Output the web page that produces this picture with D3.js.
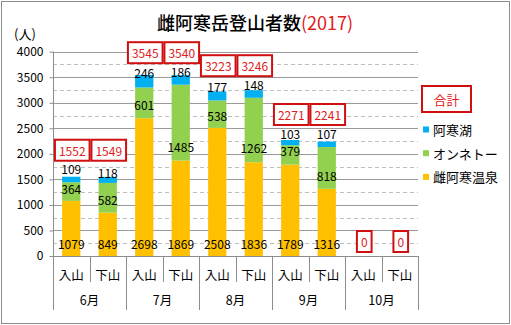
<!DOCTYPE html>
<html><head><meta charset="utf-8">
<script src="https://cdn.jsdelivr.net/npm/d3@7"></script>
<style>body{margin:0;background:#fff;} text{font-family:"Noto Sans CJK JP","Noto Sans",sans-serif;}</style>
</head><body><svg id="c" width="511" height="325"></svg>
<script>
const months = ["6月","7月","8月","9月","10月"];
const directions = ["入山","下山"];
const onsen  = [1079, 849, 2698, 1869, 2508, 1836, 1789, 1316, 0, 0];
const onneto = [364, 582, 601, 1485, 538, 1262, 379, 818, 0, 0];
const akanko = [109, 118, 246, 186, 177, 148, 103, 107, 0, 0];
const totals = [1552, 1549, 3545, 3540, 3223, 3246, 2271, 2241, 0, 0];
const yTicks = [0, 500, 1000, 1500, 2000, 2500, 3000, 3500, 4000];
const seriesNames = ["雌阿寒温泉", "オンネトー", "阿寒湖"];
const colors = ["#FFC000", "#92D050", "#00B0F0"];

(function(){
const svg = d3.select("#c");
const W = 511, H = 325;
const pLeft = 53, pRight = 418, pTop = 51.7, base = 256;
const red = "#E0201B", boxRed = "#D01010";

svg.append("rect").attr("x",1.5).attr("y",1.5).attr("width",W-3).attr("height",H-3)
  .attr("fill","#fff").attr("stroke","#8c8c8c").attr("stroke-width",1);

const idx = d3.range(totals.length);
const x = d3.scaleBand().domain(idx).range([pLeft, pRight]).paddingInner(0.5).paddingOuter(0.25);
const y = d3.scaleLinear().domain([0, 4000]).range([base, pTop]);

const minor = d3.range(250, 4000, 500);
svg.append("g").selectAll("line").data(minor).join("line")
  .attr("x1", pLeft).attr("x2", pRight).attr("y1", d => Math.round(y(d))+0.5).attr("y2", d => Math.round(y(d))+0.5)
  .attr("stroke", "#bfbfbf").attr("stroke-dasharray", "4,3");
svg.append("g").selectAll("line").data(yTicks.filter(d=>d>0)).join("line")
  .attr("x1", pLeft).attr("x2", pRight).attr("y1", d => Math.round(y(d))+0.5).attr("y2", d => Math.round(y(d))+0.5)
  .attr("stroke", "#9a9a9a");

const yAxis = d3.axisLeft(y).tickValues(yTicks).tickSize(4).tickPadding(6).tickFormat(d3.format("d"));
const ga = svg.append("g").attr("transform", `translate(${pLeft+0.5},0)`).call(yAxis);
ga.select(".domain").remove();
ga.selectAll(".tick line").attr("stroke", "#8c8c8c");
ga.selectAll(".tick text").attr("font-size", 12).attr("fill", "#000")
  .attr("font-family", '"Noto Sans","DejaVu Sans",sans-serif');
svg.append("line").attr("x1", pLeft+0.5).attr("x2", pLeft+0.5).attr("y1", pTop).attr("y2", 310).attr("stroke", "#8c8c8c");
svg.append("line").attr("x1", pLeft).attr("x2", pRight).attr("y1", base+0.5).attr("y2", base+0.5).attr("stroke", "#8c8c8c");

const table = idx.map(i => ({i, onsen: onsen[i], onneto: onneto[i], akanko: akanko[i]}));
const stack = d3.stack().keys(["onsen","onneto","akanko"])(table);
svg.append("g").selectAll("g").data(stack).join("g").attr("fill", (d,k) => colors[k])
  .selectAll("rect").data(d => d).join("rect")
  .attr("x", d => x(d.data.i)).attr("width", x.bandwidth())
  .attr("y", d => y(d[1])).attr("height", d => y(d[0]) - y(d[1]));

const step = x.step();
const catG = svg.append("g");
idx.forEach(i => {
  const cx = x(i) + x.bandwidth()/2;
  catG.append("text").attr("x", cx).attr("y", 274).attr("text-anchor","middle")
    .attr("dominant-baseline","central").attr("font-size", 12.5).text(directions[i % 2]);
});
for (let k = 1; k <= totals.length; k++) {
  const xx = Math.round(pLeft + k * step) + 0.5;
  const isMonth = k % 2 === 0;
  svg.append("line").attr("x1", xx).attr("x2", xx).attr("y1", base).attr("y2", isMonth ? 310 : 282)
    .attr("stroke", "#8c8c8c");
}
months.forEach((m, j) => {
  svg.append("text").attr("x", pLeft + (2*j+1)*step).attr("y", 299).attr("text-anchor","middle")
    .attr("dominant-baseline","central").attr("font-size", 12.5).text(m);
});

const lab = svg.append("g").attr("font-size", 12).attr("fill","#000")
  .attr("font-family", '"Noto Sans","DejaVu Sans",sans-serif')
  .attr("text-anchor","middle").attr("dominant-baseline","central");
const greenNudge = [-3, 2, 2, 24, 1, 18, -4, 8, 0, 0];
const blueNudge = [-8, -4, -2, -4, -5, -6, -7, -8, 0, 0];
const blueY = i => y(onsen[i] + onneto[i] + akanko[i]) + blueNudge[i];
stack[0].forEach(d => { if (d.data.onsen > 0) lab.append("text").attr("x", x(d.data.i)+x.bandwidth()/2).attr("y", base - 13).text(d.data.onsen); });
stack[1].forEach(d => { if (d.data.onneto > 0) lab.append("text").attr("x", x(d.data.i)+x.bandwidth()/2).attr("y", (y(d[0])+y(d[1]))/2 + greenNudge[d.data.i]).text(d.data.onneto); });
stack[2].forEach(d => { if (d.data.akanko > 0) lab.append("text").attr("x", x(d.data.i)+x.bandwidth()/2).attr("y", blueY(d.data.i)).text(d.data.akanko); });

idx.forEach(i => {
  const pair = i - (i % 2);
  const labTop = Math.min(blueY(pair), blueY(pair+1));
  const cy = totals[i] === 0 ? base - 14.5 : labTop - 8 - 10.5;
  const cx = x(i) + x.bandwidth()/2 + 1;
  const g = svg.append("g");
  const t = g.append("text").attr("x", cx).attr("y", cy).attr("text-anchor","middle")
    .attr("dominant-baseline","central").attr("font-size", 12).attr("fill", red)
    .attr("font-family", '"Noto Sans","DejaVu Sans",sans-serif').text(totals[i]);
  const w = t.node().getComputedTextLength() + 8;
  g.insert("rect","text").attr("x", cx - w/2).attr("y", cy - 10.5).attr("width", w).attr("height", 21)
    .attr("fill","#fff").attr("stroke", boxRed).attr("stroke-width", 2);
});

const title = svg.append("text").attr("x", 255).attr("y", 22).attr("text-anchor","middle")
  .attr("dominant-baseline","central").attr("font-size", 18).attr("font-weight", 500);
title.append("tspan").text("雌阿寒岳登山者数");
title.append("tspan").attr("fill", red).attr("font-weight", 400).text("(2017)");

svg.append("text").attr("x", 14).attr("y", 33).attr("dominant-baseline","central")
  .attr("font-size", 13).text("(人)");

svg.append("rect").attr("x", 422).attr("y", 86).attr("width", 49).attr("height", 26)
  .attr("fill","#fff").attr("stroke", boxRed).attr("stroke-width", 2);
svg.append("text").attr("x", 446.5).attr("y", 99).attr("text-anchor","middle").attr("dominant-baseline","central")
  .attr("font-size", 13).attr("fill", red).text("合計");
const legOrder = [2, 1, 0];
legOrder.forEach((k, j) => {
  const ly = 129.5 + j * 23.7;
  svg.append("rect").attr("x", 423).attr("y", ly - 3).attr("width", 6).attr("height", 6).attr("fill", colors[k]);
  svg.append("text").attr("x", 433).attr("y", ly).attr("dominant-baseline","central")
    .attr("font-size", 13).text(seriesNames[k]);
});
})();
</script></body></html>
